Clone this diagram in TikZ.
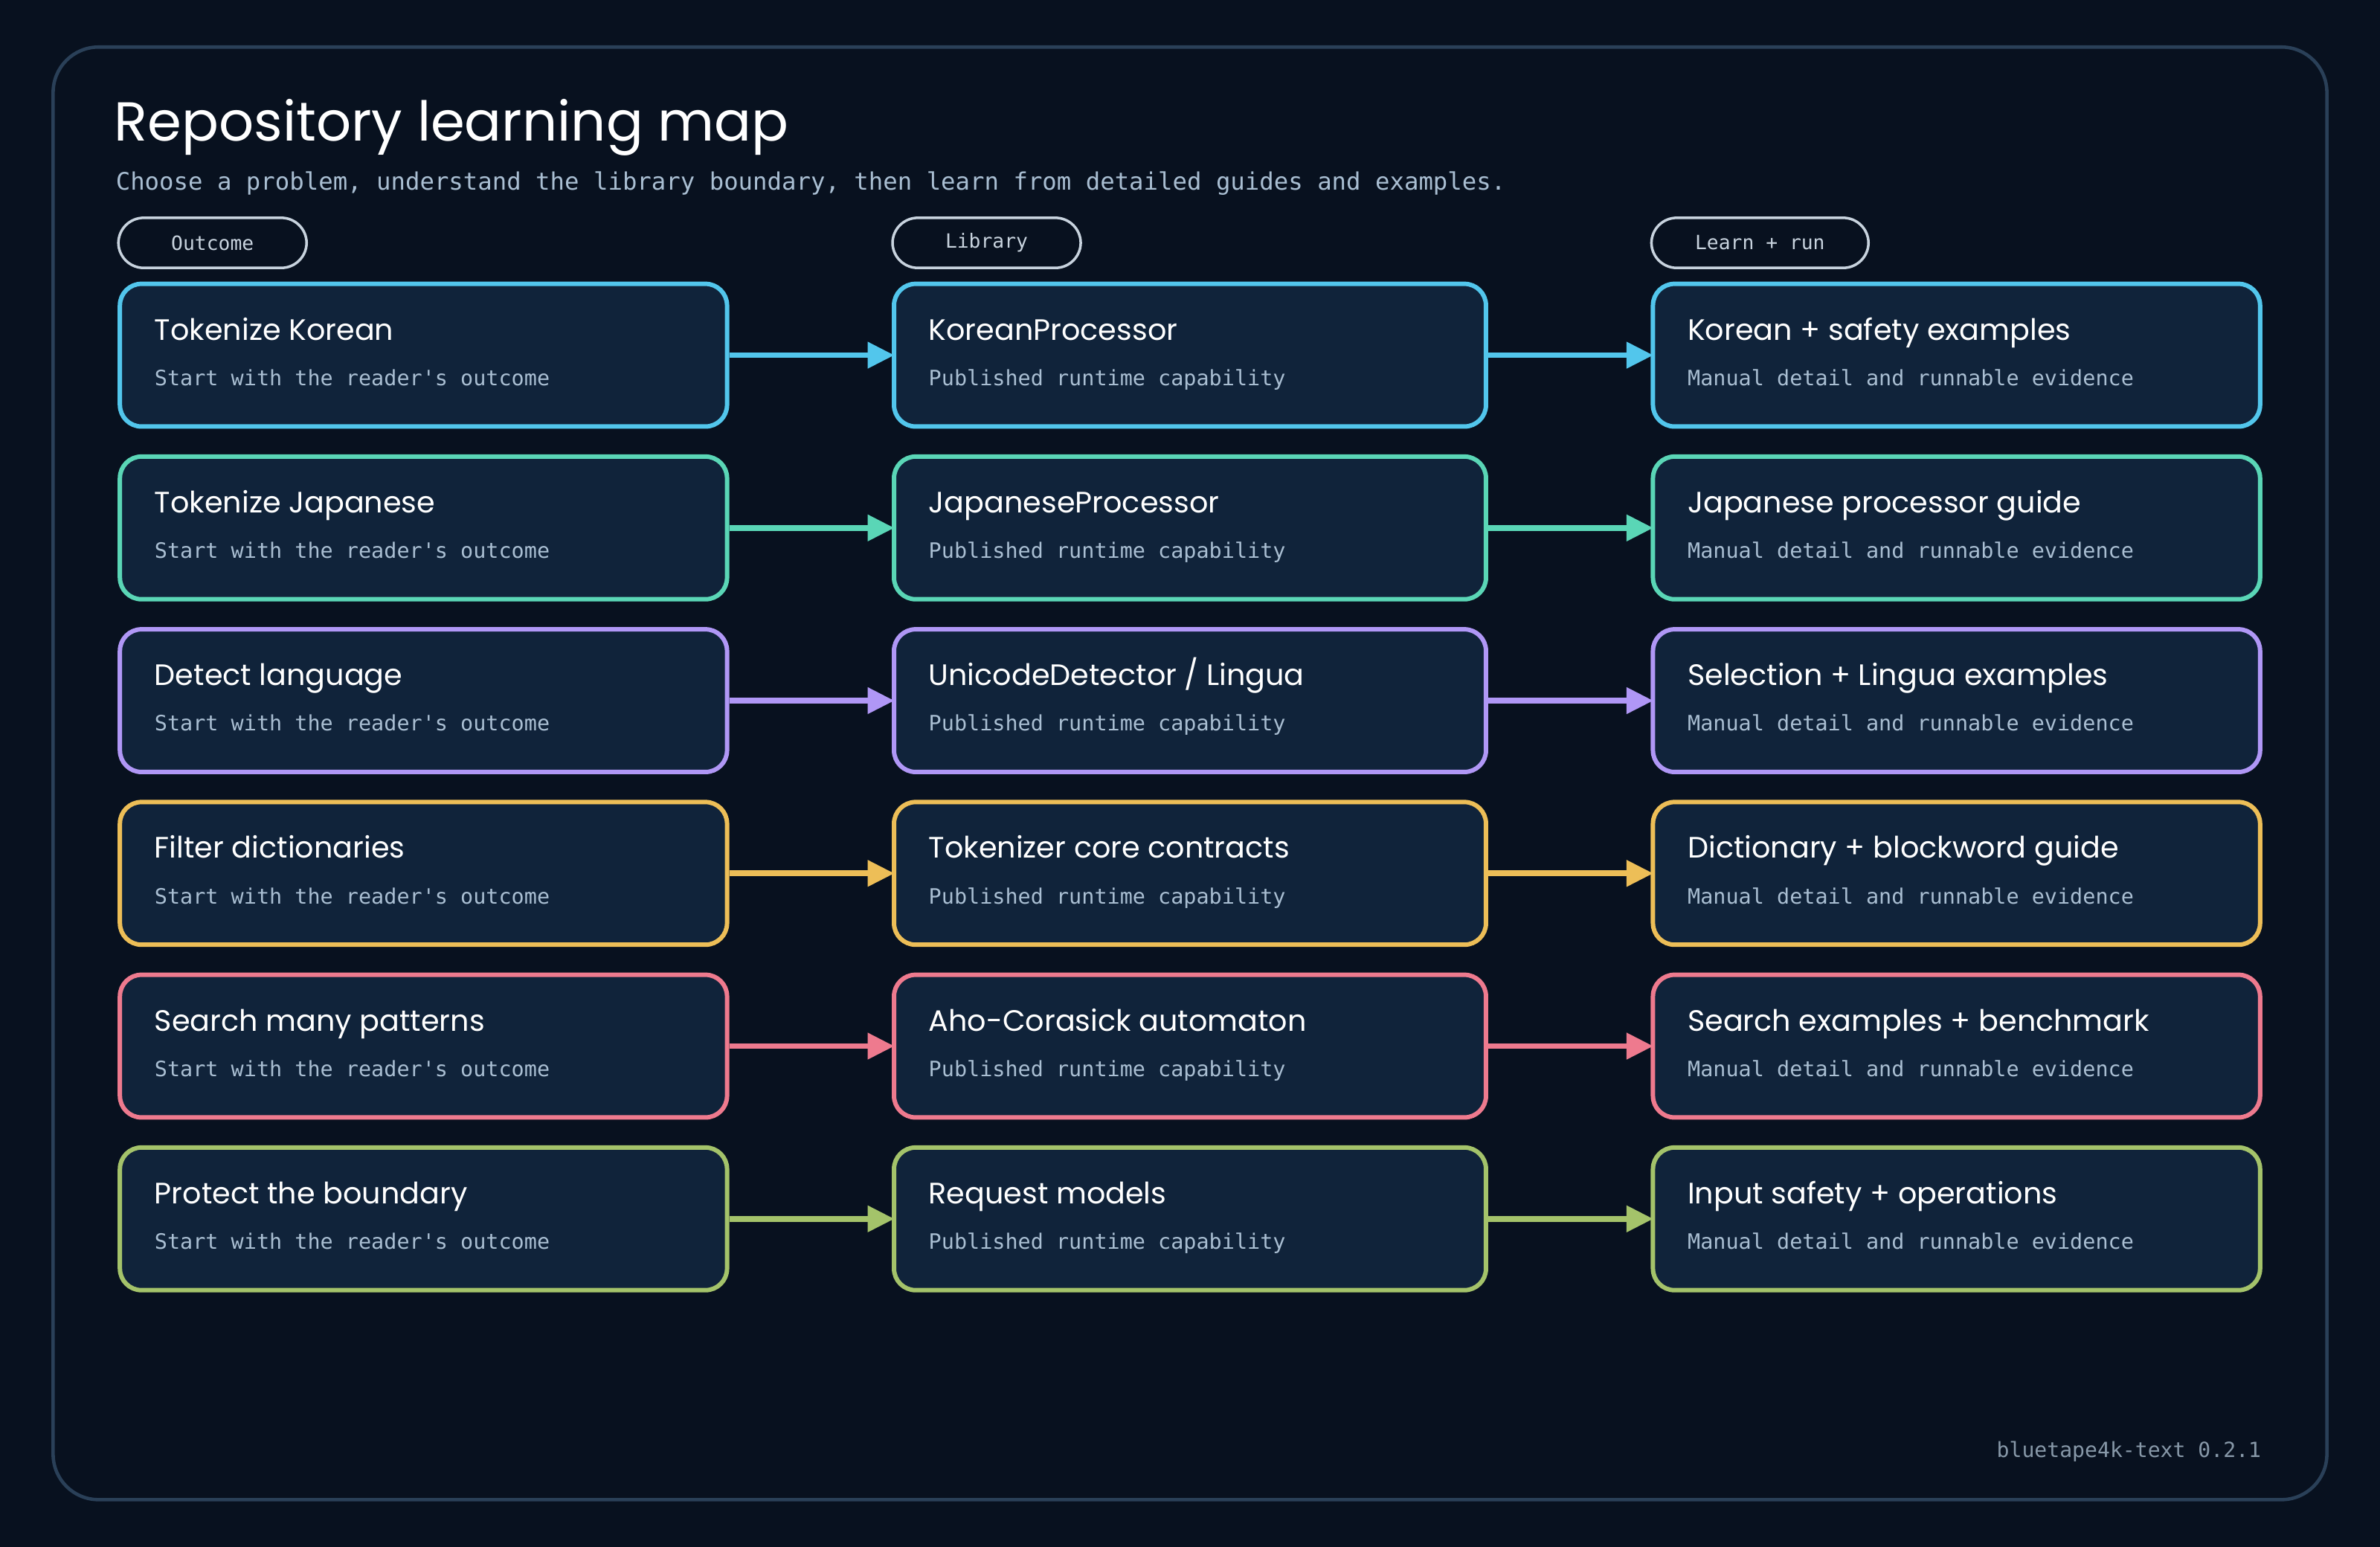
\documentclass[tikz,border=0pt]{standalone}
\usepackage{fontspec}
\setmainfont{Poppins}
\newfontfamily\monofont{DejaVu Sans Mono}
\usetikzlibrary{arrows.meta}
\definecolor{bgdark}{HTML}{08111F}
\definecolor{boxfill}{HTML}{10233A}
\definecolor{framecol}{HTML}{2A4058}
\definecolor{subcol}{HTML}{A9BED2}
\definecolor{pillcol}{HTML}{C8D3DE}
\definecolor{ccyan}{HTML}{52C6EC}
\definecolor{cteal}{HTML}{5AD6B6}
\definecolor{cpurple}{HTML}{B097F6}
\definecolor{cyellow}{HTML}{EDBE57}
\definecolor{cpink}{HTML}{EE7A8E}
\definecolor{cgreen}{HTML}{A4C36A}
\def\pxu{0.2041mm}
\tikzset{
  box/.style={draw=#1, fill=boxfill, line width=1.7pt, rounded corners=2.9mm,
    minimum width=400*\pxu, minimum height=94*\pxu, inner sep=0pt},
  pill/.style={draw=pillcol, line width=1pt, rounded corners=3.4mm, text=pillcol,
    minimum width=124*\pxu, minimum height=33*\pxu, inner sep=0pt, font=\monofont\fontsize{7.5}{9}\selectfont},
  head/.style={anchor=base west, inner sep=0pt, text=white, font=\fontsize{11.3}{14}\selectfont},
  note/.style={anchor=base west, inner sep=0pt, text=subcol, font=\monofont\fontsize{8.1}{10}\selectfont},
  arr/.style={draw=#1, line width=2.2pt, -{Triangle[length=3.6mm,width=3.4mm]}, shorten >=-1pt}
}
\begin{document}
\begin{tikzpicture}[x=\pxu, y=-\pxu]
        % Background and frame
        \fill[bgdark] (0,0) rectangle (1568,1019);
        \draw[framecol, line width=1.3pt, rounded corners=6.1mm] (35,31) rectangle (1533,988);

        % Title
        \node[anchor=base west, inner sep=0pt, text=white, font=\fontsize{21}{25}\selectfont] (title) at (75,93) {Repository learning map};
        \node[anchor=base west, inner sep=0pt, text=subcol, font=\monofont\fontsize{9.2}{11}\selectfont] (subtitle) at (76,125)
            {Choose a problem, understand the library boundary, then learn from detailed guides and examples.};

        % Column pills
        \node[pill] (pout) at (140,160) {Outcome};
        \node[pill] (plib) at (650,160) {Library};
        \node[pill, minimum width=143*\pxu] (prun) at (1159.5,160) {Learn + run};

        % Rows
        \foreach \i/\c/\a/\b/\d in {
            0/ccyan/Tokenize Korean/KoreanProcessor/Korean + safety examples,
            1/cteal/Tokenize Japanese/JapaneseProcessor/Japanese processor guide,
            2/cpurple/Detect language/{UnicodeDetector / Lingua}/Selection + Lingua examples,
            3/cyellow/Filter dictionaries/Tokenizer core contracts/Dictionary + blockword guide,
            4/cpink/Search many patterns/Aho-Corasick automaton/Search examples + benchmark,
            5/cgreen/Protect the boundary/Request models/Input safety + operations} {
            \pgfmathsetmacro{\yy}{234+113.8*\i}
            \node[box=\c] (o\i) at (279,\yy) {};
            \node[box=\c, minimum width=390*\pxu] (l\i) at (784,\yy) {};
            \node[box=\c] (r\i) at (1289,\yy) {};
            \node[head] at ([xshift=24*\pxu, yshift=10*\pxu]o\i.west) {\a};
            \node[note] at ([xshift=24*\pxu, yshift=-20*\pxu]o\i.west) {Start with the reader's outcome};
            \node[head] at ([xshift=24*\pxu, yshift=10*\pxu]l\i.west) {\b};
            \node[note] at ([xshift=24*\pxu, yshift=-20*\pxu]l\i.west) {Published runtime capability};
            \node[head] at ([xshift=24*\pxu, yshift=10*\pxu]r\i.west) {\d};
            \node[note] at ([xshift=24*\pxu, yshift=-20*\pxu]r\i.west) {Manual detail and runnable evidence};
            \draw[arr=\c] (o\i.east) -- (l\i.west);
            \draw[arr=\c] (l\i.east) -- (r\i.west);
        }

        % Footer
        \node[anchor=base east, inner sep=0pt, text=subcol!80!black, font=\monofont\fontsize{8}{10}\selectfont] (footer) at (1490,960) {bluetape4k-text 0.2.1};
    \end{tikzpicture}
\end{document}
